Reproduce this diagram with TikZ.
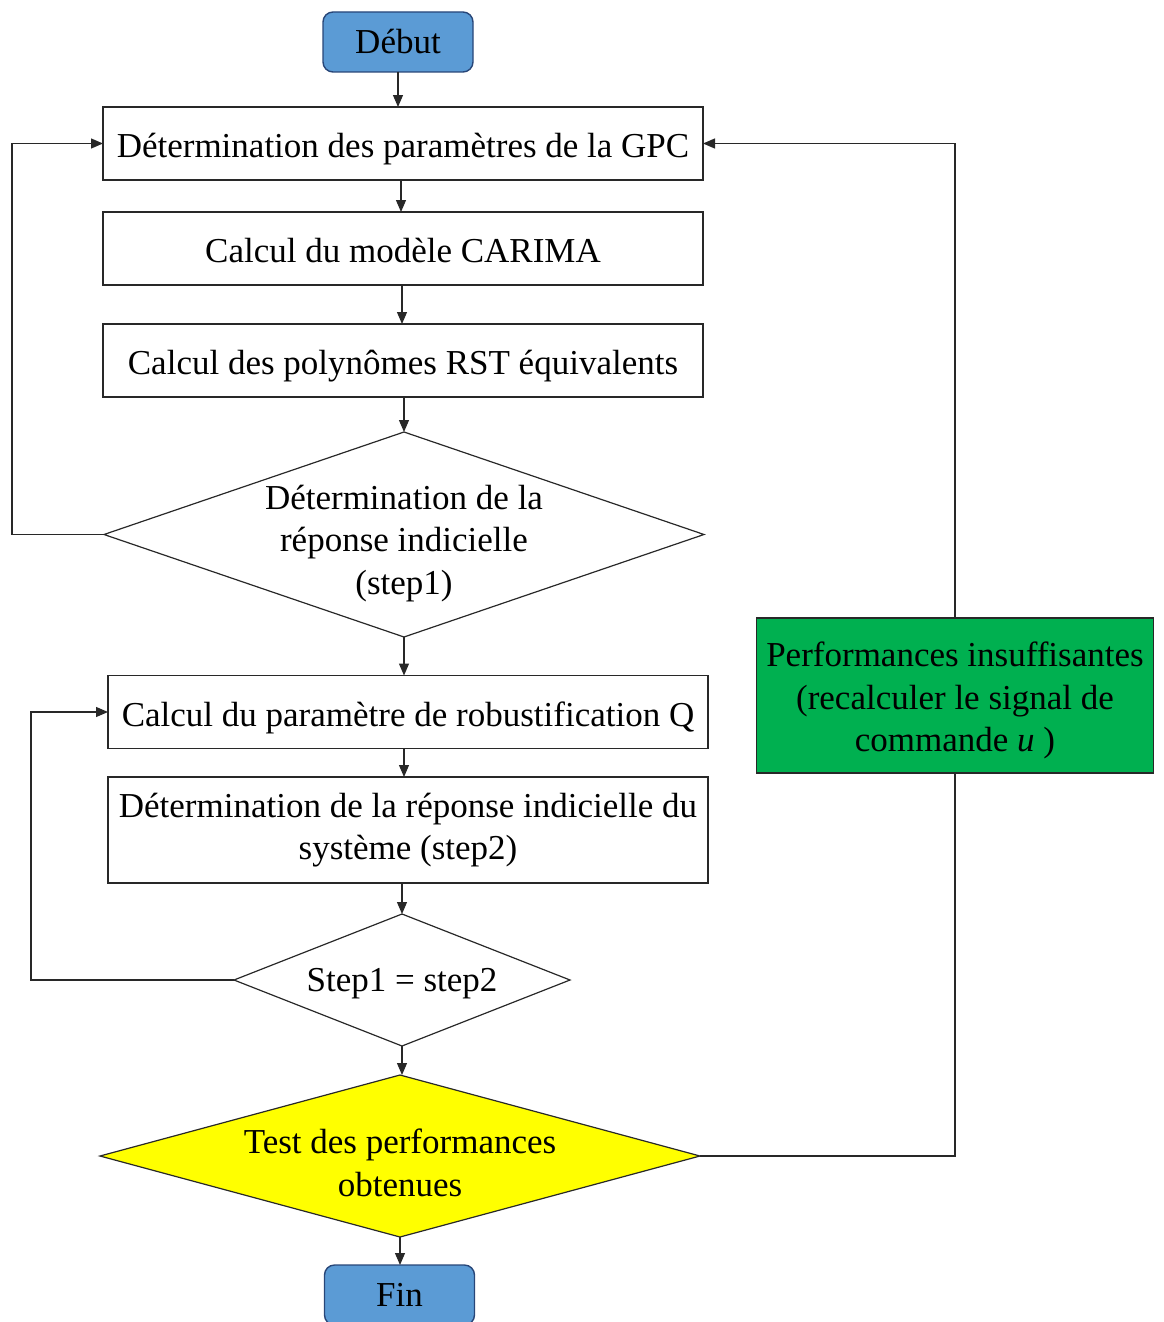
\documentclass[tikz,border=0pt]{standalone}
\usepackage{fontspec}
\setmainfont{Liberation Serif}
\usepackage{tikz}
\usetikzlibrary{
  arrows.meta,
  shapes.geometric,
  positioning
}
\usepackage{xcolor}
\definecolor{fillStart}{RGB}{91, 155, 213}
\definecolor{drawStart}{RGB}{40,  70, 120}
\definecolor{fillTest}{RGB}{255, 255, 0}
\definecolor{fillFail}{RGB}{0,  176, 80}
\definecolor{lineclr}{RGB}{40,  40,  40}
\tikzset{
  % Texte
  flowtext/.style  = {font=\fontsize{35}{42.5}\selectfont, align=center,
                      inner sep=0pt, outer sep=0pt},
  oneline/.style   = {text height=36pt, text depth=8pt},
  % Debut et fin
  startstop/.style = {flowtext, rounded corners=10pt, fill=fillStart,
                      draw=drawStart, line width=1.4pt,
                      minimum width=150pt, minimum height=60pt},
  % Blocs de calcul
  procbox/.style   = {flowtext, draw=lineclr, line width=1.2pt,
                      minimum width=600pt, minimum height=73pt},
  failbox/.style   = {procbox, fill=fillFail, minimum width=397pt,
                      minimum height=155pt},
  % Losanges
  decision/.style  = {diamond, draw=lineclr, line width=1.2pt,
                      inner sep=0pt, outer sep=0pt},
  testdec/.style   = {decision, fill=fillTest},
  % Fleches
  flowline/.style  = {line width=1.2pt, draw=lineclr},
  flowarrow/.style = {flowline, -{Stealth[length=12pt, width=10pt, inset=0pt]}},
}

\begin{document}
\begin{tikzpicture}[x=1pt, y=-1pt]
  \useasboundingbox (0,0) rectangle (1163,1322);

  \node[startstop] (debut) at (398,42) {Début};
  \node[procbox, oneline] (gpc)    at (403,143.5) {Détermination des paramètres de la GPC};
  \node[procbox, oneline] (carima) at (403,248.5) {Calcul du modèle CARIMA};
  \node[procbox, oneline] (rst)    at (403,360.5) {Calcul des polynômes RST équivalents};
  \node[decision, minimum width=600pt, minimum height=205pt,
        label={[flowtext, yshift=-9pt]center:{Détermination de la\\réponse indicielle\\(step1)}}]
        (stepone) at (404,534.5) {};
  \node[procbox, oneline] (robust) at (408,712) {Calcul du paramètre de robustification Q};
  \node[procbox, minimum height=106pt] (steptwo) at (408,830)
        {Détermination de la réponse indicielle du\\système (step2)};
  \node[decision, minimum width=336pt, minimum height=132pt,
        label={[flowtext, yshift=-4pt]center:Step1 = step2}]
        (compare) at (402,980) {};
  \node[testdec, minimum width=600pt, minimum height=162pt,
        label={[flowtext, yshift=-7pt]center:{Test des performances\\obtenues}}]
        (test) at (400,1156) {};
  \node[startstop] (fin) at (399.5,1295) {Fin};
  \node[failbox, label={[flowtext, yshift=-5pt]center:{Performances insuffisantes\\(recalculer le signal de\\commande \textit{u} )}}]
        (insuff) at (955,695.5) {};

  % Liaisons principales
  \draw[flowarrow] (debut.south) -- (debut.south |- gpc.north);
  \draw[flowarrow] (gpc.south -| 401,0) -- (carima.north -| 401,0);
  \draw[flowarrow] (carima.south -| 402,0) -- (rst.north -| 402,0);
  \draw[flowarrow] (rst.south -| stepone.north) -- (stepone.north);
  \draw[flowarrow] (stepone.south) -- (stepone.south |- robust.north);
  \draw[flowarrow] (robust.south -| 404,0) -- (steptwo.north -| 404,0);
  \draw[flowarrow] (steptwo.south -| compare.north) -- (compare.north);
  \draw[flowarrow] (compare.south) -- (compare.south |- test.north);
  \draw[flowarrow] (test.south) -- (test.south |- fin.north);

  % Boucles de retour
  \coordinate (loopA) at (12,534.5);
  \coordinate (loopB) at (31,980);
  \coordinate (loopC) at (955,1156);
  \draw[flowarrow] (stepone.west) -- (loopA) |- (gpc.west);
  \draw[flowarrow] (compare.west) -- (loopB) |- (robust.west);
  \draw[flowline]  (test.east) -- (loopC) -- (insuff.south);
  \draw[flowarrow] (insuff.north) |- (gpc.east);
\end{tikzpicture}
\end{document}
